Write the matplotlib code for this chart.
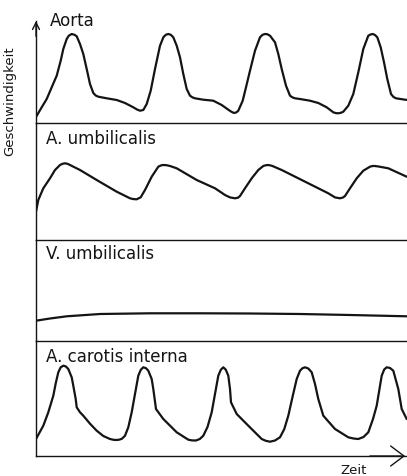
import matplotlib
matplotlib.use("Agg")
import matplotlib.pyplot as plt

# traced curves, time and velocity in arbitrary units
aorta_t = [0, 5.7, 10.7, 15.7, 20.7, 24.7, 27.3, 30.7, 32.8, 35.7, 38.5, 40.7, 44, 47.3, 50.7,
           54, 57.3, 59.7, 62.3, 70.7, 80.7, 89, 97.3, 101, 104, 107.3, 110.7, 114.7, 119,
           124, 127.5, 130, 132.3, 134.8, 137.3, 140.7, 144, 147.3, 150.7, 154, 156.5, 159,
           167.3, 177.3, 185.7, 192.3, 195.3, 198, 200.3, 202.3, 206.7, 210, 214, 219, 224,
           226.5, 229, 231.5, 234, 239, 242.3, 245.7, 250, 254, 256.5, 259, 264, 274, 282.3,
           290.7, 297.3, 299.8, 302.3, 304.8, 307.3, 312.3, 317.3, 322.3, 327.3, 332.3,
           334.5, 336.7, 339, 341.3, 344.7, 348, 351.3, 355, 357.5, 360, 369, 372]
aorta_v = [6, 15.7, 24, 35.7, 47.3, 62.3, 74, 84, 87.3, 89, 88.2, 86.7, 79, 69, 54,
           39, 30, 27.5, 26.3, 24.7, 23, 20, 15.7, 13.5, 12.3, 13, 19, 32.3, 54,
           77.3, 86, 88.3, 89, 88.2, 85.7, 77.3, 65.7, 49, 34, 27.3, 25.6, 24.7,
           23.3, 22.3, 18, 13.3, 11.3, 10, 10.6, 12.3, 22.3, 35.7, 52.3, 72.3, 85.7,
           88.2, 89, 88.7, 87.3, 80.7, 69, 54, 37.3, 27.3, 25.6, 24.7, 24, 22.3, 20,
           15.7, 10.7, 9.9, 9.7, 10.2, 11.3, 17.3, 29, 50.7, 74, 87.3,
           88.5, 89, 88, 85.7, 75.7, 60.7, 44, 29, 26, 24.7, 23.3, 23]

umb_a_t = [0, 2.3, 7.3, 14, 19, 24, 26.5, 29, 31.5, 34, 44, 60.7, 80.7, 94, 97.5, 100.7,
           104.7, 109, 115.7, 122.3, 125, 127.3, 130.5, 134, 140.7, 160.7, 179, 189, 194,
           199, 202, 204, 209, 215.7, 222.3, 227.3, 230, 232.3, 236, 245.7, 272.3, 292.3,
           299, 304, 307, 309, 314, 320.7, 327.3, 334, 336.5, 339, 343, 352.3, 370.7]
umb_a_v = [28.3, 40, 51.7, 61.7, 70, 75, 76.2, 76.7, 76.2, 75, 70, 60, 48.3, 41.7, 40.9, 40.7,
           42.7, 50, 63.3, 73.3, 74.6, 75, 74.8, 74, 71.7, 60, 51.7, 45, 42.6,
           41.7, 42.3, 44, 51.7, 61.7, 70, 74, 74.8, 75, 74.2, 70, 56.7, 46.7,
           42.6, 41.7, 42.5, 44, 51.7, 61.7, 69.3, 73.3, 74, 74, 73.4, 71.7, 63.3]

umb_v_t = [0, 14, 30.7, 64, 114, 164, 214, 264, 314, 370.7]
umb_v_v = [20.3, 22.5, 24.7, 27, 27.7, 27.7, 27.5, 27, 26, 24.7]

carotis_t = [0, 7.3, 12.3, 17.3, 19.8, 22.3, 24.7, 27.3, 29.8, 32.3, 35.7, 37.3, 39.7, 40.7,
             44, 47.3, 54, 60.7, 67.3, 74, 77.5, 80.7, 83.5, 86, 89, 92.3, 95.7, 99, 102.3,
             104.8, 107.3, 110, 112.3, 115.7, 117.3, 120, 127.3, 140.7, 152.3, 156, 160,
             163.8, 167.3, 171.5, 175.7, 179, 182.3, 184.8, 187.3, 189.8, 192.3, 194, 195,
             200.7, 212.3, 225.7, 229.8, 234, 239, 244, 248.3, 252.3, 256.5, 260.7, 264,
             266.5, 269, 272.3, 275.7, 279, 282.3, 287.3, 299, 312.3, 317.5, 322.3, 327.5,
             332.3, 337, 340.7, 345.7, 348.2, 350.7, 354, 357.3, 362.3, 365.7, 370.7]
carotis_v = [17, 30.3, 43.7, 60.3, 73, 83.7, 88.7, 90.3, 89.6, 87, 78.7, 70.3, 57, 48.7,
             43.7, 40.3, 32.3, 25.3, 20, 17, 16.2, 16, 16.4, 17.3, 20.3, 28.7, 43.7, 62, 80.3,
             86.2, 88.7, 87.8, 85.3, 77, 67, 47, 37, 23.7, 16.3, 15.6, 15.5,
             17, 20.3, 29, 43.7, 62, 80.3, 86.2, 88.7, 86.3, 80.3, 67, 53.7,
             42, 30.3, 17, 15.2, 14.3, 15.5, 18.7, 27, 40.3, 59, 77, 85.3,
             87.8, 88.7, 87.5, 83.7, 72, 57, 40.3, 27, 18.7, 17.5, 17, 19,
             23.7, 37, 50.3, 80.3, 86.5, 88.7, 88, 85.3, 67, 47, 37]

labels = ["Aorta", "A. umbilicalis", "V. umbilicalis", "A. carotis interna"]
curves = [(aorta_t, aorta_v), (umb_a_t, umb_a_v), (umb_v_t, umb_v_v), (carotis_t, carotis_v)]

W, H = 407, 477
fig = plt.figure(figsize=(W / 100, H / 100), dpi=100)
fig.patch.set_facecolor("white")

# panel edges in pixels from the top: (top, bottom)
edges = [(22, 124), (124, 241), (241, 342), (342, 457)]
x0 = 36
ink = "#141414"

axes = []
for (top, bot), (t, v) in zip(edges, curves):
    ax = fig.add_axes([x0 / W, 1 - bot / H, (W - x0) / W, (bot - top) / H])
    ax.plot(t, v, color=ink, lw=1.6, solid_joinstyle="round", solid_capstyle="round")
    ax.set_xlim(0, W - x0)
    ax.set_ylim(0, bot - top)
    for s in ["top", "right"]:
        ax.spines[s].set_visible(False)
    for s in ["left", "bottom"]:
        ax.spines[s].set_color(ink)
        ax.spines[s].set_linewidth(1.0)
    ax.set_xticks([])
    ax.set_yticks([])
    ax.patch.set_alpha(0)
    axes.append(ax)

# panel titles
axes[0].text(14, 0.96, labels[0], transform=axes[0].get_xaxis_transform(),
             fontsize=12, color=ink, va="baseline", ha="left")
for ax, lab in zip(axes[1:], labels[1:]):
    ax.text(10.5, 0.826, lab, transform=ax.get_xaxis_transform(),
            fontsize=12, color=ink, va="baseline", ha="left")

# axis arrows
axes[0].annotate("", xy=(0, 1.0), xytext=(0, 0.85), xycoords="axes fraction",
                 arrowprops=dict(arrowstyle="->, head_length=0.5, head_width=0.25",
                                 color=ink, lw=1.0, shrinkA=0, shrinkB=0))
axes[3].annotate("", xy=(0.995, 0), xytext=(0.9, 0), xycoords="axes fraction",
                 arrowprops=dict(arrowstyle="->, head_length=0.6, head_width=0.45",
                                 color=ink, lw=1.0, shrinkA=0, shrinkB=0,
                                 mutation_scale=16), annotation_clip=False)

fig.text(10 / W, 1 - 101 / H, "Geschwindigkeit", rotation=90, fontsize=9.5,
         color=ink, ha="center", va="center")
fig.text(354 / W, 1 - 471 / H, "Zeit", fontsize=9.5, color=ink, ha="center", va="center")

fig.savefig("out.png", dpi=100)
